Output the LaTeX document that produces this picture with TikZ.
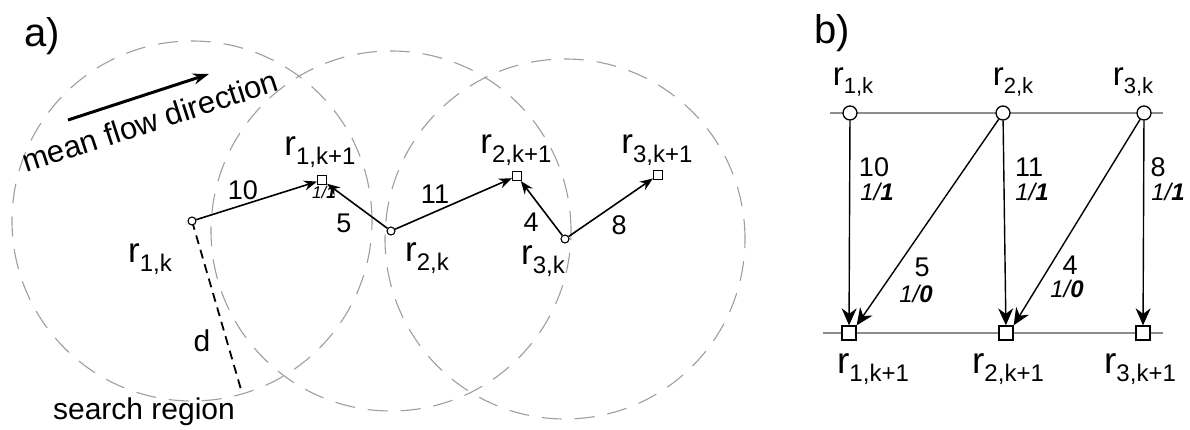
\documentclass[tikz,border=0pt]{standalone}
\usepackage{fontspec}
\setmainfont{Liberation Sans}
\usetikzlibrary{arrows.meta}
\newcommand{\fs}[1]{\fontsize{#1}{#1}\selectfont}
\newcommand{\rl}[3]{{\fs{#1}r\raisebox{-0.45ex}{\fs{#2}#3}}}
\newcommand{\ratio}[2]{{\itshape #1/\bfseries #2}}
\begin{document}
\begin{tikzpicture}[x=1pt,y=-1pt,
  ptA/.style={circle,draw,fill=white,minimum size=8pt,inner sep=0pt,line width=1.1pt},
  sqA/.style={rectangle,draw,fill=white,minimum size=9pt,inner sep=0pt,line width=1.1pt},
  ptB/.style={circle,draw,fill=white,minimum size=14pt,inner sep=0pt,line width=1.3pt},
  sqB/.style={rectangle,draw,fill=white,minimum size=14pt,inner sep=0pt,line width=1.3pt},
  arrA/.style={-{Stealth[length=13pt,width=10pt]},line width=1.6pt},
  arrB/.style={-{Stealth[length=17pt,width=15pt]},line width=1.4pt},
  region/.style={draw=black!38,dash pattern=on 20pt off 13pt,line width=1.1pt},
  grid/.style={draw=black!45,line width=1.4pt},
  txt/.style={inner sep=0pt,font=\fs{27}},
  rat/.style={inner sep=0pt,font=\fs{24}},
]
\useasboundingbox (0,0) rectangle (1190,430);
% ---------------- panel a ----------------
\node[inner sep=0pt,font=\fs{40}] (la) at (42,36) {a)};
\coordinate (c1) at (192,221);
\coordinate (c2) at (391,231);
\coordinate (c3) at (565,239);
\draw[region] (c1) circle[radius=180pt];
\draw[region] (c2) circle[radius=180pt];
\draw[region] (c3) circle[radius=180pt];
\coordinate (dend) at (242,393);
\draw[dash pattern=on 9pt off 6pt,line width=1.8pt] (c1) -- (dend);
\node[ptA] (a1) at (c1) {};
\node[ptA] (a2) at (c2) {};
\node[ptA] (a3) at (c3) {};
\node[sqA] (b1) at (322,180) {};
\node[sqA] (b2) at (517,176) {};
\node[sqA] (b3) at (658,175) {};
\draw[arrA] (a1) -- (b1);
\draw[arrA] (a2) -- (b1);
\draw[arrA] (a2) -- (b2);
\draw[arrA] (a3) -- (b2);
\draw[arrA] (a3) -- (b3);
\node[inner sep=0pt,font=\fs{17}] (r11) at (324,192) {\ratio{1}{1}};
\node[inner sep=0pt] (l1) at (150,259) {\rl{35}{24}{1,k}};
\node[inner sep=0pt] (l2) at (427,258) {\rl{35}{24}{2,k}};
\node[inner sep=0pt] (l3) at (543,261) {\rl{35}{24}{3,k}};
\node[inner sep=0pt] (m1) at (320,152) {\rl{35}{24}{1,k+1}};
\node[inner sep=0pt] (m2) at (516,150) {\rl{35}{24}{2,k+1}};
\node[inner sep=0pt] (m3) at (657,150) {\rl{35}{24}{3,k+1}};
\node[txt] (n10) at (243,190) {10};
\node[txt] (n5) at (344,223) {5};
\node[txt] (n11) at (435,194) {11};
\node[txt] (n4) at (531,222) {4};
\node[txt] (n8) at (619,225) {8};
\node[inner sep=0pt,font=\fs{30}] (dl) at (202,341) {d};
\node[inner sep=0pt,font=\fs{30}] (sr) at (144,412) {search region};
\coordinate (mf1) at (68,120);
\coordinate (mf2) at (209,74);
\draw[-{Stealth[length=16pt,width=11pt]},line width=3pt] (mf1) -- (mf2);
\node[inner sep=0pt,font=\fs{31},rotate=18] (mfd) at (150,121) {mean flow direction};
% ---------------- panel b ----------------
\node[inner sep=0pt,font=\fs{40}] (lb) at (832,33) {b)};
\coordinate (h1a) at (830,113);
\coordinate (h1b) at (1163,113);
\coordinate (h2a) at (823,333);
\coordinate (h2b) at (1163,333);
\draw[grid] (h1a) -- (h1b);
\draw[grid] (h2a) -- (h2b);
\node[ptB] (t1) at (850,113) {};
\node[ptB] (t2) at (1003,113) {};
\node[ptB] (t3) at (1144,113) {};
\node[sqB] (s1) at (849,333) {};
\node[sqB] (s2) at (1006,333) {};
\node[sqB] (s3) at (1143,333) {};
\draw[arrB] (t1) -- (s1);
\draw[arrB] (t2) -- (s1.north east);
\draw[arrB] (t2) -- (s2);
\draw[arrB] (t3) -- (s2.north east);
\draw[arrB] (t3) -- (s3);
\node[inner sep=0pt] (tl1) at (853,82) {\rl{33}{22}{1,k}};
\node[inner sep=0pt] (tl2) at (1013,82) {\rl{33}{22}{2,k}};
\node[inner sep=0pt] (tl3) at (1133,82) {\rl{33}{22}{3,k}};
\node[inner sep=0pt] (bl1) at (873,369) {\rl{37}{24}{1,k+1}};
\node[inner sep=0pt] (bl2) at (1008,369) {\rl{37}{24}{2,k+1}};
\node[inner sep=0pt] (bl3) at (1140,369) {\rl{37}{24}{3,k+1}};
\node[txt] (e10) at (874,167) {10};
\node[rat] (e10r) at (877,192) {\ratio{1}{1}};
\node[txt] (e11) at (1029,167) {11};
\node[rat] (e11r) at (1032,192) {\ratio{1}{1}};
\node[txt] (e8) at (1158,167) {8};
\node[rat] (e8r) at (1168,192) {\ratio{1}{1}};
\node[txt] (e5) at (922,267) {5};
\node[rat] (e5r) at (916,294) {\ratio{1}{0}};
\node[txt] (e4) at (1070,265) {4};
\node[rat] (e4r) at (1067,289) {\ratio{1}{0}};
\end{tikzpicture}
\end{document}
